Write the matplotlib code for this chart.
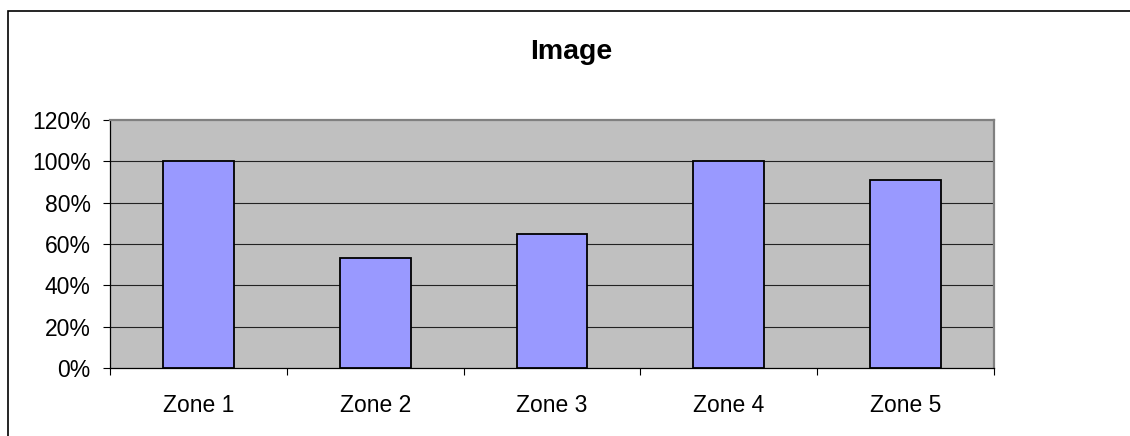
import matplotlib
matplotlib.use("Agg")
import matplotlib.pyplot as plt
from matplotlib.patches import Rectangle
from matplotlib.ticker import FuncFormatter, FixedLocator

zones = ["Zone 1", "Zone 2", "Zone 3", "Zone 4", "Zone 5"]
scores = [1.00, 0.53, 0.65, 1.00, 0.91]
y_ticks = [0.0, 0.2, 0.4, 0.6, 0.8, 1.0, 1.2]

plt.rcParams["font.family"] = ["Liberation Sans", "DejaVu Sans"]

fig = plt.figure(figsize=(11.3, 4.36), dpi=100)
ax = fig.add_axes([110 / 1130, 68 / 436, 884 / 1130, 248 / 436])
ax.set_facecolor("#c0c0c0")

# chart frame, runs off the right and bottom edges
fig.patches.append(Rectangle((8 / 1130, -0.1), 1.2, 1.1 - 11 / 436,
                             transform=fig.transFigure, fill=False,
                             edgecolor="black", linewidth=1.2))

x = range(len(zones))
ax.bar(x, scores, width=0.4, color="#9999ff", edgecolor="black",
       linewidth=1.3, zorder=3)

ax.set_xlim(-0.5, len(zones) - 0.5)
ax.set_ylim(0, 1.2)
ax.set_yticks(y_ticks)
ax.yaxis.set_major_formatter(FuncFormatter(lambda v, _: f"{v:.0%}"))
for v in y_ticks[1:-1]:
    ax.axhline(v, color="#222222", linewidth=0.8, zorder=1)

ax.set_xticks(list(x))
ax.set_xticklabels(zones)
ax.xaxis.set_minor_locator(FixedLocator([i - 0.5 for i in range(len(zones) + 1)]))
ax.tick_params(axis="x", which="major", length=0, pad=19, labelsize=16.5)
ax.tick_params(axis="x", which="minor", length=5, width=0.8, color="black")
ax.tick_params(axis="y", length=5, width=0.8, color="black", pad=9, labelsize=16.5)

for side in ("left", "bottom"):
    ax.spines[side].set_color("black")
    ax.spines[side].set_linewidth(0.9)
for side in ("top", "right"):
    ax.spines[side].set_color("#808080")
    ax.spines[side].set_linewidth(1.6)

fig.text(571 / 1130, 1 - 52 / 436, "Image", ha="center", va="center",
         fontsize=20.5, fontweight="bold")

fig.savefig("out.png", dpi=100)
